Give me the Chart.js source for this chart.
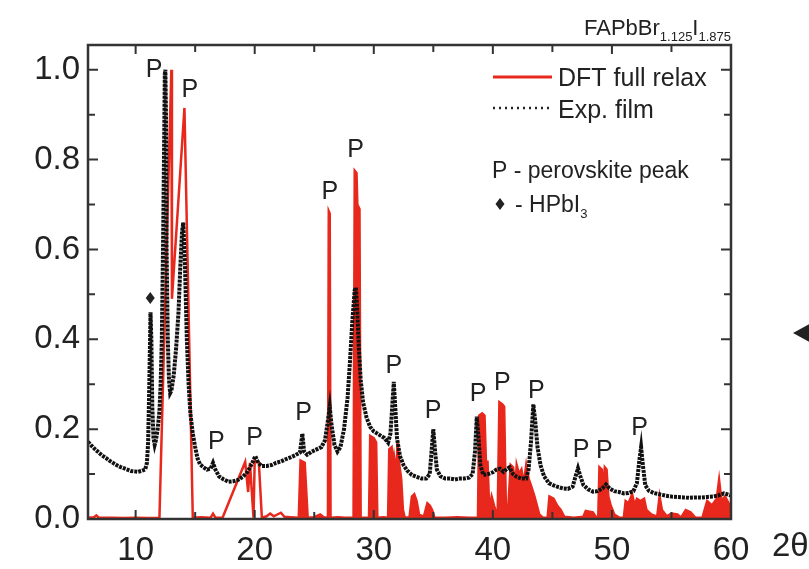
<!DOCTYPE html>
<html>
<head>
<meta charset="utf-8">
<script src="https://cdn.jsdelivr.net/npm/chart.js@4.4.1/dist/chart.umd.min.js"></script>
<style>
  html, body { margin: 0; padding: 0; background: #fff; }
</style>
</head>
<body>
<canvas id="xrd" width="809" height="569"></canvas>
<script>
// XRD pattern of FAPbBr1.125I1.875: measured film vs. DFT relaxed structure
const expTheta = [
  6.0, 6.3, 6.6, 6.9, 7.2, 7.5, 7.8, 8.1, 8.4, 8.7, 9.0, 9.3, 9.6, 9.9, 10.2, 10.5, 10.8,
  10.95, 11.05, 11.15, 11.25, 11.32, 11.4, 11.5, 11.6, 11.7, 11.85, 12.0, 12.1, 12.2, 12.3,
  12.4, 12.45, 12.5, 12.55, 12.6, 12.7, 12.8, 12.9, 13.0, 13.2, 13.4, 13.6, 13.75, 13.9,
  14.0, 14.15, 14.3, 14.45, 14.6, 14.8, 15.0, 15.2, 15.4, 15.7, 16.0, 16.3, 16.5, 16.7,
  17.0, 17.4, 17.8, 18.2, 18.6, 19.0, 19.4, 19.8, 20.05, 20.3, 20.6, 21.0, 21.4, 21.8,
  22.2, 22.6, 23.0, 23.4, 23.8, 24.0, 24.15, 24.4, 24.8, 25.2, 25.6, 25.9, 26.1, 26.3,
  26.45, 26.7, 26.95, 27.2, 27.5, 27.8, 28.0, 28.2, 28.4, 28.5, 28.6, 28.75, 28.9, 29.1,
  29.4, 29.7, 30.0, 30.3, 30.6, 30.9, 31.2, 31.4, 31.55, 31.68, 31.8, 31.95, 32.2, 32.5,
  32.8, 33.2, 33.6, 34.0, 34.4, 34.7, 34.85, 35.0, 35.15, 35.3, 35.6, 36.0, 36.4, 36.8,
  37.2, 37.6, 38.0, 38.3, 38.5, 38.65, 38.8, 38.95, 39.2, 39.6, 40.0, 40.3, 40.6, 40.9,
  41.2, 41.4, 41.7, 42.0, 42.4, 42.8, 43.0, 43.2, 43.4, 43.55, 43.75, 44.0, 44.3, 44.7,
  45.1, 45.5, 45.9, 46.3, 46.7, 46.95, 47.15, 47.35, 47.6, 48.0, 48.4, 48.8, 49.2, 49.5,
  49.8, 50.2, 50.6, 51.0, 51.4, 51.8, 52.1, 52.3, 52.45, 52.6, 52.8, 53.1, 53.5, 54.0,
  54.5, 55.0, 55.5, 56.0, 56.5, 57.0, 57.5, 58.0, 58.5, 59.0, 59.4, 59.7, 60.0
];
const expIntensity = [
  0.172, 0.163, 0.155, 0.148, 0.141, 0.136, 0.130, 0.125, 0.120, 0.116, 0.113, 0.110, 0.107, 0.106, 0.105, 0.107, 0.110,
  0.125, 0.170, 0.300, 0.460, 0.400, 0.250, 0.180, 0.165, 0.175, 0.200, 0.240, 0.300, 0.400, 0.600,
  0.850, 0.990, 1.000, 0.900, 0.600, 0.400, 0.310, 0.280, 0.285, 0.320, 0.380, 0.460, 0.560, 0.640,
  0.660, 0.560, 0.400, 0.300, 0.235, 0.190, 0.160, 0.135, 0.122, 0.115, 0.110, 0.112, 0.125, 0.110,
  0.095, 0.088, 0.083, 0.084, 0.087, 0.094, 0.105, 0.125, 0.140, 0.125, 0.118, 0.118, 0.120, 0.125,
  0.128, 0.133, 0.137, 0.142, 0.148, 0.190, 0.150, 0.143, 0.150, 0.155, 0.160, 0.175, 0.210, 0.250,
  0.210, 0.165, 0.150, 0.160, 0.200, 0.270, 0.350, 0.440, 0.510, 0.515, 0.470, 0.380, 0.310, 0.260,
  0.225, 0.205, 0.195, 0.190, 0.185, 0.180, 0.170, 0.190, 0.250, 0.305, 0.250, 0.180, 0.140, 0.120,
  0.108, 0.098, 0.094, 0.090, 0.090, 0.100, 0.150, 0.200, 0.150, 0.110, 0.095, 0.090, 0.090, 0.088,
  0.090, 0.090, 0.092, 0.100, 0.150, 0.228, 0.180, 0.120, 0.098, 0.100, 0.104, 0.110, 0.112, 0.105,
  0.112, 0.115, 0.100, 0.094, 0.090, 0.090, 0.110, 0.170, 0.255, 0.220, 0.160, 0.120, 0.095, 0.080,
  0.075, 0.071, 0.068, 0.067, 0.072, 0.095, 0.113, 0.095, 0.076, 0.066, 0.061, 0.062, 0.068, 0.077,
  0.068, 0.062, 0.060, 0.057, 0.058, 0.062, 0.080, 0.130, 0.160, 0.120, 0.075, 0.063, 0.058, 0.055,
  0.052, 0.050, 0.049, 0.048, 0.047, 0.048, 0.048, 0.049, 0.050, 0.053, 0.057, 0.055, 0.052
];

const dftTheta = [
  6.0, 6.5, 6.7, 6.9, 8.0, 9.0, 10.0, 11.0, 12.0, 13.0, 13.05, 14.1, 14.8, 15.5, 16.3, 16.5,
  16.7, 17.3, 19.2, 19.45, 19.6, 19.9, 20.0, 20.35, 20.6, 21.0, 21.3, 21.6, 21.9, 22.2, 22.5,
  23.0, 23.7, 23.85, 24.2, 24.45, 25.0, 25.5, 25.8, 26.15, 26.22, 26.3, 26.37, 27.0, 27.6,
  28.3, 28.4, 28.55, 28.62, 28.8, 28.9, 29.5, 29.6, 29.7, 30.0, 30.2, 30.3, 30.8, 31.2, 31.3,
  31.5, 31.6, 31.7, 31.9, 32.0, 32.15, 32.3, 32.45, 32.6, 33.0, 33.2, 33.4, 33.6, 33.8, 34.2,
  34.5, 34.7, 34.9, 35.1, 36.0, 37.0, 38.0, 38.75, 38.85, 39.1, 39.3, 39.45, 39.55, 39.7,
  39.9, 40.1, 40.4, 40.55, 40.8, 40.95, 41.1, 41.3, 41.5, 41.7, 41.9, 42.0, 42.2, 42.4, 42.6,
  42.8, 43.0, 43.2, 43.5, 43.7, 43.9, 44.2, 44.6, 44.75, 45.1, 45.4, 45.7, 46.0, 46.8, 47.6,
  47.8, 48.4, 48.7, 48.85, 48.95, 49.15, 49.25, 49.4, 49.55, 49.7, 49.9, 50.2, 50.6, 51.0,
  51.15, 51.4, 51.7, 51.9, 52.1, 52.4, 52.7, 52.9, 53.3, 53.8, 54.0, 54.2, 54.6, 55.0, 55.5,
  55.8, 56.2, 56.6, 57.0, 57.6, 58.0, 58.4, 58.8, 59.0, 59.2, 59.5, 59.8, 60.0
];
const dftIntensity = [
  0.003, 0.004, 0.008, 0.003, 0.003, 0.002, 0.003, 0.002, 0.003, 1.000, 0.490, 0.915, 0.003, 0.004, 0.003, 0.012,
  0.003, 0.003, 0.127, 0.060, 0.125, 0.003, 0.130, 0.125, 0.003, 0.006, 0.012, 0.006, 0.010, 0.014, 0.005,
  0.004, 0.003, 0.130, 0.125, 0.003, 0.004, 0.010, 0.004, 0.003, 0.685, 0.680, 0.003, 0.004, 0.003,
  0.003, 0.775, 0.770, 0.700, 0.690, 0.003, 0.003, 0.003, 0.185, 0.180, 0.170, 0.003, 0.004, 0.003, 0.155,
  0.160, 0.120, 0.140, 0.100, 0.170, 0.120, 0.090, 0.020, 0.003, 0.004, 0.050, 0.055, 0.040, 0.010, 0.005,
  0.035, 0.030, 0.020, 0.003, 0.003, 0.004, 0.003, 0.003, 0.230, 0.235, 0.230, 0.100, 0.130, 0.020,
  0.050, 0.030, 0.003, 0.260, 0.255, 0.250, 0.020, 0.030, 0.120, 0.115, 0.070, 0.120, 0.100, 0.110, 0.080,
  0.120, 0.090, 0.075, 0.050, 0.030, 0.010, 0.003, 0.003, 0.050, 0.045, 0.030, 0.020, 0.005, 0.003, 0.005,
  0.018, 0.015, 0.003, 0.003, 0.115, 0.110, 0.050, 0.115, 0.110, 0.050, 0.030, 0.010, 0.003, 0.003,
  0.040, 0.035, 0.055, 0.030, 0.045, 0.040, 0.045, 0.020, 0.010, 0.005, 0.050, 0.020, 0.006, 0.012, 0.010,
  0.003, 0.020, 0.015, 0.003, 0.003, 0.040, 0.030, 0.045, 0.087, 0.040, 0.050, 0.035, 0.020
];

const xTickValues = [10, 20, 30, 40, 50, 60];
const yTickValues = [0.0, 0.2, 0.4, 0.6, 0.8, 1.0];

// peaks marked "P" (label centre, in 2theta / intensity units)
const perovskitePeaks = [
  [11.56, 1.0], [14.55, 0.955], [16.77, 0.172], [20.0, 0.18], [24.1, 0.236],
  [26.3, 0.727], [28.47, 0.82], [31.68, 0.341], [34.98, 0.24], [38.75, 0.277],
  [40.79, 0.303], [43.65, 0.285], [47.42, 0.154], [49.37, 0.15], [52.32, 0.202]
];
const hpbi3Peak = [11.23, 0.492];

const RED = '#e8281c';
const INK = '#222';
const FONT = '"Liberation Sans", Arial, Helvetica, sans-serif';

const toPoints = (xs, ys) => xs.map((x, i) => ({x: x, y: ys[i]}));

// box frame with inward ticks on all four sides
const frame = {
  id: 'frame',
  afterDatasetsDraw(chart) {
    const {ctx, chartArea: a, scales: {x, y}} = chart;
    ctx.save();
    ctx.strokeStyle = '#333';
    ctx.lineWidth = 2;
    ctx.beginPath();
    for (let v = 10; v <= x.max; v += 5) {
      const px = x.getPixelForValue(v);
      const len = v % 10 === 0 ? 9 : 7;
      ctx.moveTo(px, a.bottom); ctx.lineTo(px, a.bottom - len);
      ctx.moveTo(px, a.top); ctx.lineTo(px, a.top + len);
    }
    for (let k = 0; k <= 10; k++) {
      const py = y.getPixelForValue(k / 10);
      const len = k % 2 === 0 ? 10 : 7;
      ctx.moveTo(a.left, py); ctx.lineTo(a.left + len, py);
      ctx.moveTo(a.right, py); ctx.lineTo(a.right - len, py);
    }
    ctx.stroke();
    ctx.lineWidth = 2.5;
    ctx.strokeRect(a.left, a.top, a.right - a.left, a.bottom - a.top);
    ctx.restore();
  }
};

// title, legend, peak labels and axis symbol
const notes = {
  id: 'notes',
  afterDraw(chart) {
    const {ctx, chartArea: a, scales: {x, y}} = chart;
    ctx.save();
    ctx.fillStyle = INK;

    // title with subscripts, right aligned to the frame
    const parts = [['FAPbBr', 22, 0], ['1.125', 13, 6], ['I', 22, 0], ['1.875', 13, 6]];
    let w = 0;
    parts.forEach(p => { ctx.font = p[1] + 'px ' + FONT; w += ctx.measureText(p[0]).width; });
    let tx = a.right - w;
    ctx.textBaseline = 'alphabetic';
    parts.forEach(p => {
      ctx.font = p[1] + 'px ' + FONT;
      ctx.fillText(p[0], tx, 35 + p[2]);
      tx += ctx.measureText(p[0]).width;
    });

    // legend
    const lx = a.right - 238;
    ctx.strokeStyle = RED;
    ctx.lineWidth = 3;
    ctx.beginPath(); ctx.moveTo(lx, 77); ctx.lineTo(lx + 59, 77); ctx.stroke();
    ctx.strokeStyle = INK;
    ctx.lineWidth = 2.5;
    ctx.setLineDash([2, 4]);
    ctx.beginPath(); ctx.moveTo(lx, 108); ctx.lineTo(lx + 56, 108); ctx.stroke();
    ctx.setLineDash([]);
    ctx.font = '25px ' + FONT;
    ctx.fillText('DFT full relax', lx + 65, 86);
    ctx.fillText('Exp. film', lx + 65, 118);
    ctx.font = '23px ' + FONT;
    ctx.fillText('P - perovskite peak', lx - 1, 178);
    ctx.fillText('- HPbI', lx + 22, 212);
    const hw = ctx.measureText('- HPbI').width;
    ctx.font = '13px ' + FONT;
    ctx.fillText('3', lx + 22 + hw, 218);
    diamond(ctx, lx + 7, 204);

    // "P" markers and the HPbI3 diamond
    ctx.font = '25px ' + FONT;
    ctx.textAlign = 'center';
    ctx.textBaseline = 'middle';
    perovskitePeaks.forEach(p => ctx.fillText('P', x.getPixelForValue(p[0]), y.getPixelForValue(p[1])));
    diamond(ctx, x.getPixelForValue(hpbi3Peak[0]), y.getPixelForValue(hpbi3Peak[1]));

    // axis symbol and arrow
    ctx.textAlign = 'left';
    ctx.textBaseline = 'alphabetic';
    ctx.font = '33px ' + FONT;
    ctx.fillText('2\u03b8', a.right + 41, 556);
    ctx.beginPath();
    ctx.moveTo(a.right + 62, 333);
    ctx.lineTo(a.right + 82, 322);
    ctx.lineTo(a.right + 82, 344);
    ctx.closePath();
    ctx.fill();
    ctx.restore();
  }
};

function diamond(ctx, cx, cy) {
  ctx.beginPath();
  ctx.moveTo(cx, cy - 6);
  ctx.lineTo(cx + 4.5, cy);
  ctx.lineTo(cx, cy + 6);
  ctx.lineTo(cx - 4.5, cy);
  ctx.closePath();
  ctx.fill();
}

new Chart(document.getElementById('xrd'), {
  type: 'line',
  data: {
    datasets: [
      {
        label: 'Exp. film',
        data: toPoints(expTheta, expIntensity),
        borderColor: '#111',
        borderWidth: 4,
        borderDash: [3, 1],
        pointRadius: 0,
        tension: 0,
        fill: false,
        order: 0
      },
      {
        label: 'DFT full relax',
        data: toPoints(dftTheta, dftIntensity),
        borderColor: RED,
        borderWidth: 2.5,
        backgroundColor: 'rgba(0,0,0,0)',
        pointRadius: 0,
        tension: 0,
        fill: 'origin',
        // the dense reflections above ~23 deg merge into solid red
        segment: {
          backgroundColor: ctx => ctx.p0.parsed.x >= 23.5 ? RED : 'rgba(0,0,0,0)'
        },
        order: 1
      }
    ]
  },
  options: {
    responsive: false,
    animation: false,
    layout: {padding: {top: 45, right: 78, left: 0, bottom: 0}},
    plugins: {legend: {display: false}, tooltip: {enabled: false}},
    scales: {
      x: {
        type: 'linear',
        min: 6,
        max: 60,
        grid: {display: false, drawTicks: false},
        border: {display: false},
        afterBuildTicks: s => { s.ticks = xTickValues.map(v => ({value: v})); },
        afterFit: s => { s.height = 50; },
        ticks: {color: INK, font: {family: FONT, size: 33}, padding: 12, maxRotation: 0}
      },
      y: {
        type: 'linear',
        min: 0,
        max: 1.055,
        grid: {display: false, drawTicks: false},
        border: {display: false},
        afterBuildTicks: s => { s.ticks = yTickValues.map(v => ({value: v})); },
        afterFit: s => { s.width = 88; },
        ticks: {color: INK, font: {family: FONT, size: 33}, padding: 8, callback: v => v.toFixed(1)}
      }
    }
  },
  plugins: [frame, notes]
});
</script>
</body>
</html>
